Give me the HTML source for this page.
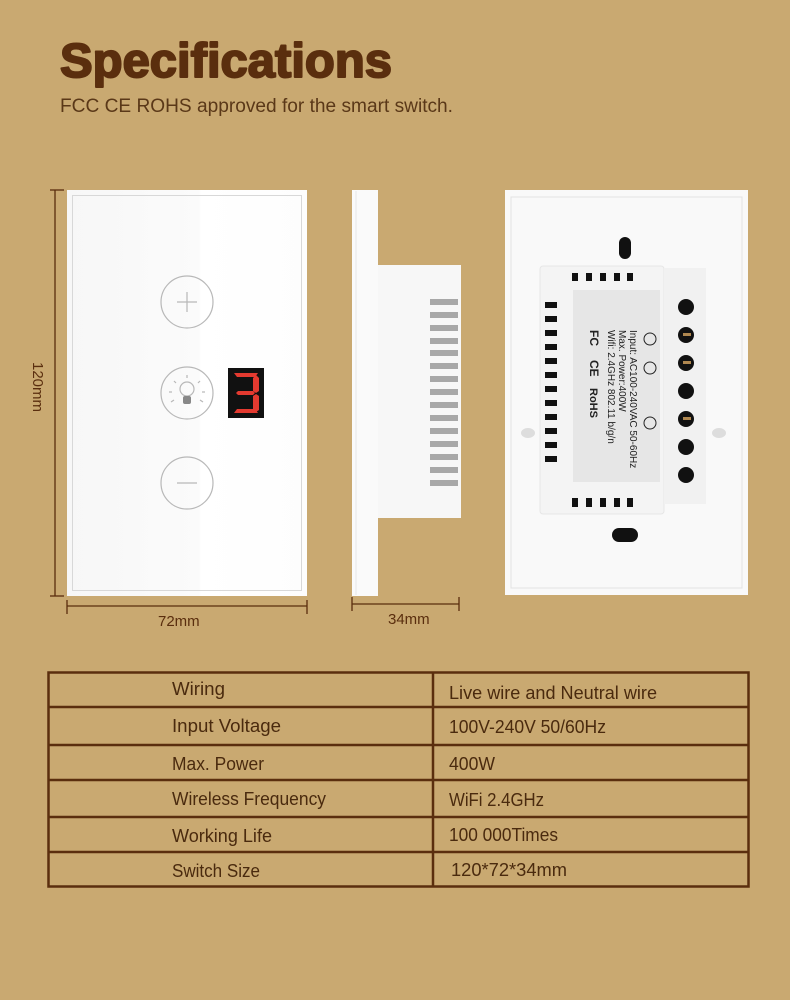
<!DOCTYPE html>
<html><head><meta charset="utf-8"><style>
html,body{margin:0;padding:0;background:#C9A971;}
body{width:790px;height:1000px;overflow:hidden;position:relative;font-family:"Liberation Sans",sans-serif;}
svg{position:absolute;left:0;top:0;}
.t{font-family:"Liberation Sans",sans-serif;}
</style></head><body>
<svg width="790" height="1000" viewBox="0 0 790 1000">
<defs>
<linearGradient id="glass" x1="0" y1="0" x2="1" y2="0">
<stop offset="0" stop-color="#f7f7f7"/><stop offset="0.55" stop-color="#fbfbfb"/><stop offset="0.56" stop-color="#ffffff"/><stop offset="1" stop-color="#fdfdfd"/>
</linearGradient>
</defs>
<rect width="790" height="1000" fill="#C9A971"/>
<text x="60" y="77" class="t" font-size="48" font-weight="bold" fill="#5A2E0E" stroke="#5A2E0E" stroke-width="2" stroke-linejoin="round" textLength="332" lengthAdjust="spacingAndGlyphs">Specifications</text>
<text x="60" y="112" class="t" font-size="19" fill="#5A3818" textLength="393" lengthAdjust="spacingAndGlyphs">FCC CE ROHS approved for the smart switch.</text>

<g stroke="#5A2E0E" stroke-width="1.3" fill="none">
<line x1="55" y1="190" x2="55" y2="596"/><line x1="50" y1="190" x2="64" y2="190"/><line x1="50" y1="596" x2="64" y2="596"/>
<line x1="67" y1="606" x2="307" y2="606"/><line x1="67" y1="600" x2="67" y2="614"/><line x1="307" y1="600" x2="307" y2="614"/>
<line x1="352" y1="604" x2="459" y2="604"/><line x1="352" y1="597" x2="352" y2="611"/><line x1="459" y1="597" x2="459" y2="611"/>
</g>
<text transform="translate(33,362) rotate(90)" class="t" font-size="15" fill="#5A2E0E">120mm</text>
<text x="158" y="626" class="t" font-size="15" fill="#5A2E0E">72mm</text>
<text x="388" y="624" class="t" font-size="15" fill="#5A2E0E">34mm</text>

<rect x="67" y="190" width="240" height="406" fill="url(#glass)"/>
<rect x="72.5" y="195.5" width="229" height="395" fill="none" stroke="#d8d8d8" stroke-width="1"/>
<g fill="none" stroke="#b8b8b8" stroke-width="1.2">
<circle cx="187" cy="302" r="26"/><circle cx="187" cy="393" r="26"/><circle cx="187" cy="483" r="26"/>
<line x1="177" y1="302" x2="197" y2="302"/><line x1="187" y1="292" x2="187" y2="312"/>
<line x1="177" y1="483" x2="197" y2="483"/>
<circle cx="187" cy="389" r="7"/>
<line x1="187" y1="378" x2="187" y2="375"/><line x1="176" y1="383" x2="174" y2="381"/><line x1="198" y1="383" x2="200" y2="381"/>
<line x1="172" y1="392" x2="169" y2="392"/><line x1="202" y1="392" x2="205" y2="392"/>
<line x1="174" y1="400" x2="171" y2="402"/><line x1="200" y1="400" x2="203" y2="402"/>
</g>
<rect x="183" y="396" width="8" height="8" rx="2" fill="#888"/>
<rect x="228" y="368" width="36" height="50" fill="#111"/>
<g fill="#e43a30">
<polygon points="234,373 258,373 255,377 237,377"/>
<polygon points="256,375 259,378 259,391 256,393 253,391 253,378"/>
<polygon points="238,391 253,391 255,393 253,395 238,395 236,393"/>
<polygon points="256,394 259,396 259,410 256,412 253,410 253,396"/>
<polygon points="234,413 258,413 255,409 237,409"/>
</g>

<rect x="352" y="190" width="26" height="406" fill="#fafafa"/>
<line x1="356" y1="191" x2="356" y2="595" stroke="#e6e6e6" stroke-width="1"/>
<rect x="378" y="265" width="83" height="253" fill="#f7f7f7"/>
<g fill="#a8a8a8">
<rect x="430" y="299" width="28" height="6"/><rect x="430" y="312" width="28" height="6"/><rect x="430" y="325" width="28" height="6"/>
<rect x="430" y="338" width="28" height="6"/><rect x="430" y="350" width="28" height="6"/><rect x="430" y="363" width="28" height="6"/>
<rect x="430" y="376" width="28" height="6"/><rect x="430" y="389" width="28" height="6"/><rect x="430" y="402" width="28" height="6"/>
<rect x="430" y="415" width="28" height="6"/><rect x="430" y="428" width="28" height="6"/><rect x="430" y="441" width="28" height="6"/>
<rect x="430" y="454" width="28" height="6"/><rect x="430" y="467" width="28" height="6"/><rect x="430" y="480" width="28" height="6"/>
</g>

<rect x="505" y="190" width="243" height="405" fill="#f9f9f9"/>
<rect x="511" y="197" width="231" height="391" fill="none" stroke="#e2e2e2" stroke-width="1"/>
<rect x="619" y="237" width="12" height="22" rx="6" fill="#111"/>
<rect x="612" y="528" width="26" height="14" rx="7" fill="#111"/>
<ellipse cx="528" cy="433" rx="7" ry="5" fill="#ddd"/><ellipse cx="719" cy="433" rx="7" ry="5" fill="#ddd"/>
<rect x="540" y="266" width="124" height="248" rx="3" fill="#f4f4f4" stroke="#e6e6e6"/>
<rect x="573" y="290" width="87" height="192" fill="#e6e6e6"/>
<rect x="664" y="268" width="42" height="236" fill="#f1f1f1"/>
<g fill="#111">
<rect x="572" y="273" width="6" height="8"/><rect x="586" y="273" width="6" height="8"/><rect x="600" y="273" width="6" height="8"/><rect x="614" y="273" width="6" height="8"/><rect x="627" y="273" width="6" height="8"/>
<rect x="572" y="498" width="6" height="9"/><rect x="586" y="498" width="6" height="9"/><rect x="600" y="498" width="6" height="9"/><rect x="614" y="498" width="6" height="9"/><rect x="627" y="498" width="6" height="9"/>
<rect x="545" y="302" width="12" height="6"/><rect x="545" y="316" width="12" height="6"/><rect x="545" y="330" width="12" height="6"/><rect x="545" y="344" width="12" height="6"/>
<rect x="545" y="358" width="12" height="6"/><rect x="545" y="372" width="12" height="6"/><rect x="545" y="386" width="12" height="6"/><rect x="545" y="400" width="12" height="6"/>
<rect x="545" y="414" width="12" height="6"/><rect x="545" y="428" width="12" height="6"/><rect x="545" y="442" width="12" height="6"/><rect x="545" y="456" width="12" height="6"/>
<circle cx="686" cy="307" r="8"/><circle cx="686" cy="335" r="8"/><circle cx="686" cy="363" r="8"/><circle cx="686" cy="391" r="8"/><circle cx="686" cy="419" r="8"/><circle cx="686" cy="447" r="8"/><circle cx="686" cy="475" r="8"/>
</g>
<g fill="#b08850"><rect x="683" y="333" width="8" height="3"/><rect x="683" y="361" width="8" height="3"/><rect x="683" y="417" width="8" height="3"/></g>
<g fill="none" stroke="#222" stroke-width="1"><circle cx="650" cy="339" r="6"/><circle cx="650" cy="368" r="6"/><circle cx="650" cy="423" r="6"/></g>
<g transform="translate(630,330) rotate(90)" class="t" fill="#222" font-size="10">
<text x="0" y="0">Input: AC100-240VAC 50-60Hz</text>
<text x="0" y="11">Max. Power:400W</text>
<text x="0" y="22">Wifi: 2.4GHz 802.11 b/g/n</text>
<text x="0" y="40" font-size="12" font-weight="bold">FC</text>
<text x="30" y="40" font-size="12" font-weight="bold">CE</text>
<text x="58" y="40" font-size="11" font-weight="bold">RoHS</text>
</g>

<g stroke="#5A2E0E" stroke-width="2.5" fill="none">
<rect x="48.5" y="672.5" width="700" height="214"/>
<line x1="48" y1="707" x2="749" y2="707"/><line x1="48" y1="745" x2="749" y2="745"/><line x1="48" y1="780" x2="749" y2="780"/>
<line x1="48" y1="817" x2="749" y2="817"/><line x1="48" y1="852" x2="749" y2="852"/>
<line x1="433" y1="672" x2="433" y2="887"/>
</g>
<g class="t" font-size="18" fill="#4A2A0E">
<text x="172" y="695" textLength="53" lengthAdjust="spacingAndGlyphs">Wiring</text>
<text x="172" y="732" textLength="109" lengthAdjust="spacingAndGlyphs">Input Voltage</text>
<text x="172" y="770" textLength="92" lengthAdjust="spacingAndGlyphs">Max. Power</text>
<text x="172" y="805" textLength="154" lengthAdjust="spacingAndGlyphs">Wireless Frequency</text>
<text x="172" y="842" textLength="100" lengthAdjust="spacingAndGlyphs">Working Life</text>
<text x="172" y="877" textLength="88" lengthAdjust="spacingAndGlyphs">Switch Size</text>
<text x="449" y="699" textLength="208" lengthAdjust="spacingAndGlyphs">Live wire and Neutral wire</text>
<text x="449" y="733" textLength="157" lengthAdjust="spacingAndGlyphs">100V-240V 50/60Hz</text>
<text x="449" y="770" textLength="46" lengthAdjust="spacingAndGlyphs">400W</text>
<text x="449" y="806" textLength="95" lengthAdjust="spacingAndGlyphs">WiFi 2.4GHz</text>
<text x="449" y="841" textLength="109" lengthAdjust="spacingAndGlyphs">100 000Times</text>
<text x="451" y="876" textLength="116" lengthAdjust="spacingAndGlyphs">120*72*34mm</text>
</g>
</svg>
</body></html>
